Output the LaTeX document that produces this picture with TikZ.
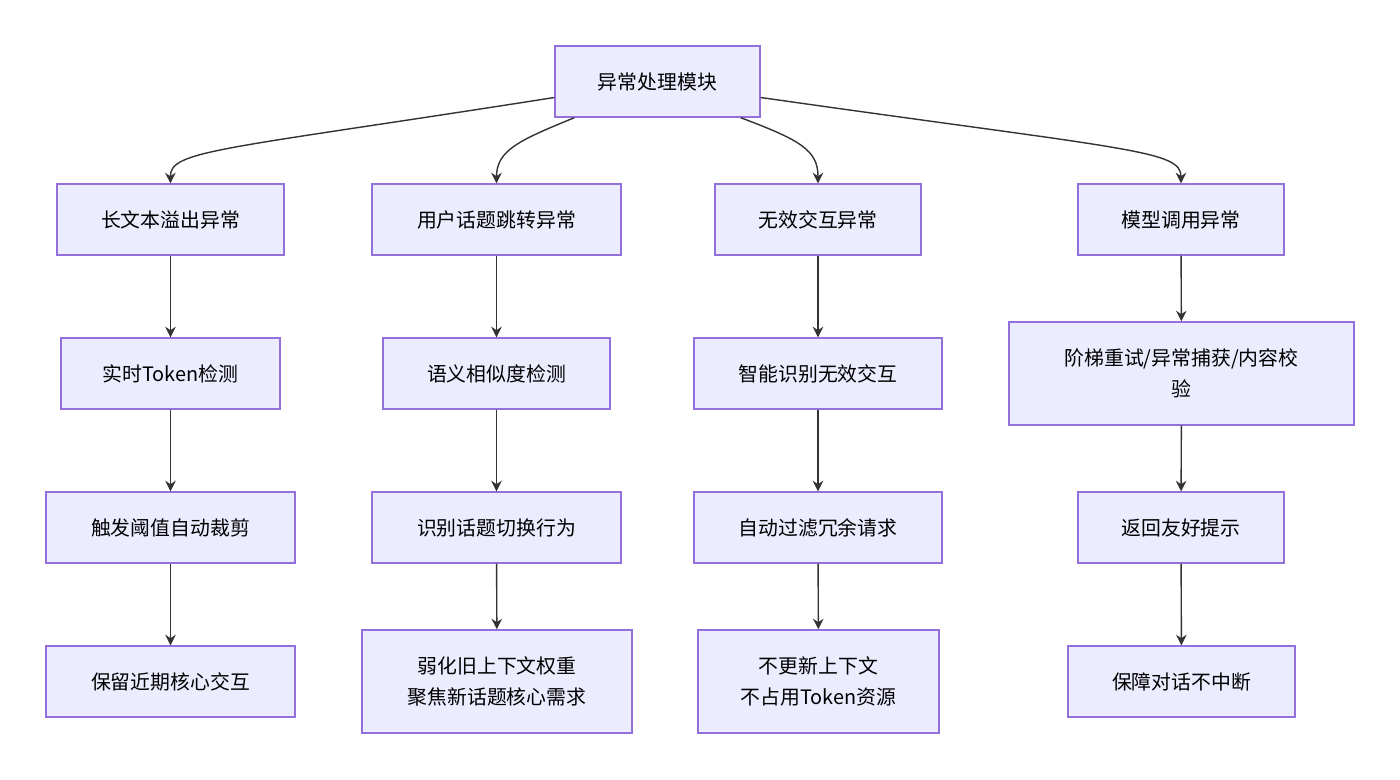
\documentclass[tikz,border=0pt]{standalone}
\usepackage{fontspec}
\setmainfont{Noto Sans CJK SC}
\usetikzlibrary{arrows.meta}
\definecolor{boxfill}{HTML}{ECECFF}
\definecolor{boxline}{HTML}{9370DB}
\definecolor{arrowcol}{HTML}{333333}
\begin{document}
\begin{tikzpicture}[x=0.02cm, y=-0.02cm,
  box/.style={rectangle, draw=boxline, fill=boxfill, line width=0.8pt, align=center,
    font=\fontsize{11.3}{17.5}\selectfont, inner sep=0pt, minimum height=71*0.02cm},
  arr/.style={draw=arrowcol, line width=0.8pt, -{Stealth[length=6pt, width=6pt]}}]

\useasboundingbox (0,0) rectangle (1400,779);

% Top module
\node[box, minimum width=205*0.02cm] (root) at (657.5,81.5) {异常处理模块};

% Four branches
\node[box, minimum width=227*0.02cm] (long1) at (170.5,219.5) {长文本溢出异常};
\node[box, minimum width=249*0.02cm] (topic1) at (496.5,219.5) {用户话题跳转异常};
\node[box, minimum width=206*0.02cm] (inv1) at (818,219.5) {无效交互异常};
\node[box, minimum width=206*0.02cm] (model1) at (1181,219.5) {模型调用异常};

\node[box, minimum width=219*0.02cm] (long2) at (170.5,373.5) {实时Token检测};
\node[box, minimum width=227*0.02cm] (topic2) at (496.5,373.5) {语义相似度检测};
\node[box, minimum width=248*0.02cm] (inv2) at (818,373.5) {智能识别无效交互};
\node[box, minimum width=345*0.02cm, minimum height=103*0.02cm] (model2) at (1181.5,373.5) {阶梯重试/异常捕获/内容校\\验};

\node[box, minimum width=249*0.02cm] (long3) at (170.5,527.5) {触发阈值自动裁剪};
\node[box, minimum width=249*0.02cm] (topic3) at (496.5,527.5) {识别话题切换行为};
\node[box, minimum width=248*0.02cm] (inv3) at (818,527.5) {自动过滤冗余请求};
\node[box, minimum width=206*0.02cm] (model3) at (1181,527.5) {返回友好提示};

\node[box, minimum width=249*0.02cm] (long4) at (170.5,681.5) {保留近期核心交互};
\node[box, minimum width=270*0.02cm, minimum height=103*0.02cm] (topic4) at (497,681.5) {弱化旧上下文权重\\聚焦新话题核心需求};
\node[box, minimum width=241*0.02cm, minimum height=103*0.02cm] (inv4) at (818.5,681.5) {不更新上下文\\不占用Token资源};
\node[box, minimum width=227*0.02cm] (model4) at (1181.5,681.5) {保障对话不中断};

% Root to branches
\draw[arr] ([yshift=-0.32cm]root.west) .. controls (220,150) and (170,150) .. (long1.north);
\draw[arr] ([xshift=0.4cm]root.south west) .. controls (520,140) and (496.5,150) .. (topic1.north);
\draw[arr] ([xshift=-0.4cm]root.south east) .. controls (800,140) and (818,150) .. (inv1.north);
\draw[arr] ([yshift=-0.32cm]root.east) .. controls (1130,150) and (1181,150) .. (model1.north);

% Chains
\foreach \c in {long, topic, inv, model} {
  \draw[arr] (\c1) -- (\c2);
  \draw[arr] (\c2) -- (\c3);
  \draw[arr] (\c3) -- (\c4);
}

\end{tikzpicture}
\end{document}
